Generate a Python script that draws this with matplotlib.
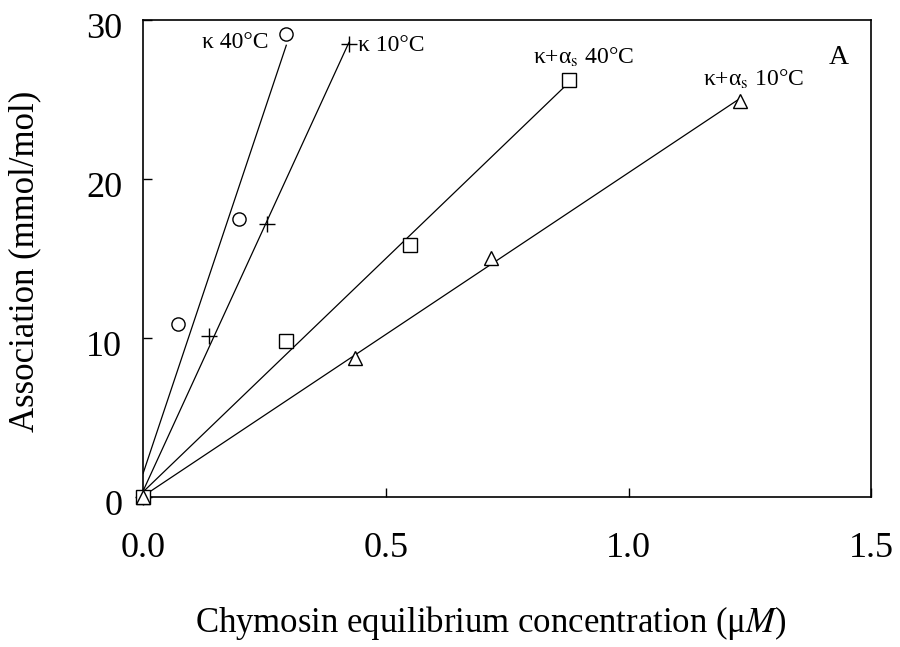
import numpy as np
import matplotlib
matplotlib.use('Agg')
import matplotlib.pyplot as plt
import matplotlib.transforms as mtrans

plt.rcParams['font.family'] = ['Liberation Serif', 'DejaVu Serif']
plt.rcParams['mathtext.fontset'] = 'stix'

# data (x: uM, y: mmol/mol)
k40_x = [0.0, 0.072, 0.198, 0.295]
k40_y = [0.0, 10.9, 17.5, 29.1]
k10_x = [0.0, 0.136, 0.256, 0.424]
k10_y = [0.0, 10.1, 17.2, 28.5]
ka40_x = [0.0, 0.295, 0.550, 0.878]
ka40_y = [0.0, 9.8, 15.85, 26.2]
ka10_x = [0.0, 0.436, 0.717, 1.229]
ka10_y = [0.0, 8.75, 15.0, 24.9]

series = [
    (k40_x, k40_y, 'o', 'κ 40°C', (-18, -8), 'right'),
    (k10_x, k10_y, '+', 'κ 10°C', (9, -2), 'left'),
    (ka40_x, ka40_y, 's', 'κ+α$_{\\mathrm{s}}$ 40°C', (14, 23), 'center'),
    (ka10_x, ka10_y, '^', 'κ+α$_{\\mathrm{s}}$ 10°C', (14, 22), 'center'),
]

fig = plt.figure(figsize=(9, 6.47), dpi=100)
ax = fig.add_axes([0.159, 0.232, 0.809, 0.737])

for xs, ys, mk, lab, off, ha in series:
    xs = np.array(xs)
    ys = np.array(ys)
    # least squares line through the points
    slope, icpt = np.polyfit(xs, ys, 1)
    xx = np.array([0.0, xs.max()])
    ax.plot(xx, slope * xx + icpt, color='black', lw=0.9)
    ax.plot(xs, ys, linestyle='none', marker=mk, ms=11 if mk == '+' else 9.5,
            mfc='white' if mk != '+' else 'black', mec='black', mew=1.0,
            color='black', clip_on=False, zorder=3)
    ax.annotate(lab, (xs[-1], ys[-1]), xytext=off, textcoords='offset pixels',
                ha=ha, va='center', fontsize=17)

ax.text(0.955, 0.922, 'A', transform=ax.transAxes, ha='center', va='center',
        fontsize=20)

ax.set_xlim(0, 1.5)
ax.set_ylim(0, 30)
ax.set_xticks([0.0, 0.5, 1.0, 1.5])
ax.set_xticklabels(['0.0', '0.5', '1.0', '1.5'])
ax.set_yticks([0, 10, 20, 30])
ax.tick_params(direction='in', length=6.5, width=1.0, labelsize=26)
ax.tick_params(axis='x', pad=25)
ax.tick_params(axis='y', pad=15)
# y labels sit a little below their ticks in the original
shift = mtrans.ScaledTranslation(0, -4 / 72, fig.dpi_scale_trans)
for t in ax.get_yticklabels():
    t.set_transform(t.get_transform() + shift)
for s in ax.spines.values():
    s.set_linewidth(1.2)

ax.set_xlabel('Chymosin equilibrium concentration (μ$M$)', fontsize=25, va='center')
ax.xaxis.set_label_coords(0.478, -0.264)
ax.set_ylabel('Association (mmol/mol)', fontsize=25, va='center')
ax.yaxis.set_label_coords(-0.162, 0.493)

fig.savefig('out.png', dpi=100)
